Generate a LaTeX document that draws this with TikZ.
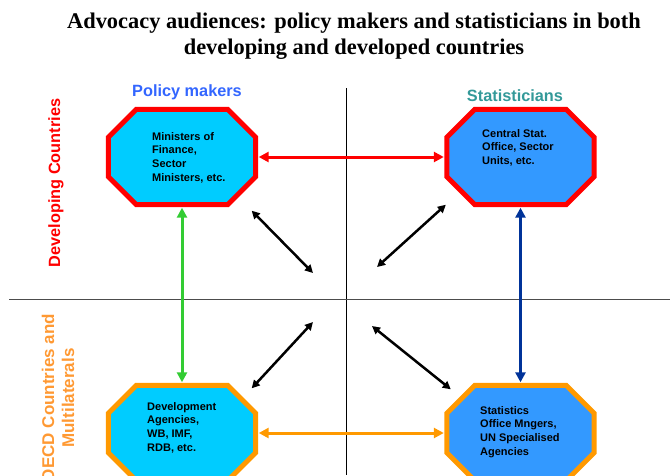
\documentclass[tikz,border=0pt]{standalone}
\usepackage{fontspec}
\setmainfont{Liberation Sans}
\newfontfamily\titlefont{Liberation Serif}
\usetikzlibrary{arrows.meta,calc}
\definecolor{octcyan}{HTML}{00CCFF}
\definecolor{octblue}{HTML}{3399FF}
\definecolor{octred}{HTML}{FF0000}
\definecolor{octorange}{HTML}{FF9900}
\definecolor{linkgreen}{HTML}{33CC33}
\definecolor{linkblue}{HTML}{003399}
\definecolor{headblue}{HTML}{3366FF}
\definecolor{headteal}{HTML}{339999}
\definecolor{sideorange}{HTML}{FF9933}
\begin{document}
\begin{tikzpicture}[x=1pt,y=-1pt,
  octbox/.style={minimum width=147pt,minimum height=95pt,inner sep=0pt},
  boxtext/.style={anchor=north west,align=left,inner sep=0pt,font=\fontsize{11}{13.7}\selectfont\bfseries},
  head/.style={font=\fontsize{16.3}{20}\selectfont\bfseries},
  link/.style={line width=3pt,{Triangle[length=10pt,width=10pt]}-{Triangle[length=10pt,width=10pt]},shorten <=3pt,shorten >=3pt},
  cross/.style={line width=2.5pt,{Triangle[length=8pt,width=8pt]}-{Triangle[length=8pt,width=8pt]}}]
\useasboundingbox (0,0) rectangle (670,475);
\clip (0,0) rectangle (670,475);
% title
\node[font=\fontsize{22.4}{26}\selectfont\titlefont\bfseries,align=center] (title) at (354,36) {Advocacy audiences: policy makers and statisticians in both\\developing and developed countries};
% quadrant lines
\draw[line width=0.8pt] (346,88) -- (346,475);
\draw[line width=0.8pt,black!70] (9,299) -- (670,299);
% column and row headings
\node[head,text=headblue] (pmhead) at (187,92) {Policy makers};
\node[head,text=headteal] (sthead) at (515,96) {Statisticians};
\node[head,rotate=90,text=octred] (devside) at (56,183) {Developing Countries};
\node[head,rotate=90,text=sideorange,align=center,font=\fontsize{17}{20}\selectfont\bfseries] (oecdside) at (58,398) {OECD Countries and\\Multilaterals};
% audience boxes
\node[octbox] (pm) at (182,157) {};
\node[octbox] (st) at (520.5,157) {};
\node[octbox] (da) at (182,433) {};
\node[octbox] (so) at (520.5,433) {};
\foreach \n/\c/\f in {pm/octred/octcyan, st/octred/octblue, da/octorange/octcyan, so/octorange/octblue}
  \draw[line width=5pt,draw=\c,fill=\f]
    ($(\n.north west)+(28pt,0pt)$) -- ($(\n.north east)+(-28pt,0pt)$)
    -- ($(\n.north east)+(0pt,-28pt)$) -- ($(\n.south east)+(0pt,28pt)$)
    -- ($(\n.south east)+(-28pt,0pt)$) -- ($(\n.south west)+(28pt,0pt)$)
    -- ($(\n.south west)+(0pt,28pt)$) -- ($(\n.north west)+(0pt,-28pt)$) -- cycle;
\node[boxtext] (pmtext) at (152,132) {Ministers of\\Finance,\\Sector\\Ministers, etc.};
\node[boxtext] (sttext) at (482,129) {Central Stat.\\Office, Sector\\Units, etc.};
\node[boxtext] (datext) at (147,402) {Development\\Agencies,\\WB, IMF,\\RDB, etc.};
\node[boxtext] (sotext) at (480,406) {Statistics\\Office Mngers,\\UN Specialised\\Agencies};
% links
\draw[link,octred] (pm.east) -- (st.west);
\draw[link,octorange] (da.east) -- (so.west);
\draw[link,linkgreen] (pm.south) -- (da.north);
\draw[link,linkblue] (st.south) -- (so.north);
% diagonal links towards the centre
\coordinate (pmend) at (313,273);
\coordinate (stend) at (377,267);
\coordinate (daend) at (313,322);
\coordinate (soend) at (372,326);
\draw[cross] ($(pm.south east)+(-4pt,-6pt)$) -- (pmend);
\draw[cross] ($(st.south west)+(-1pt,0pt)$) -- (stend);
\draw[cross] ($(da.north east)+(-4pt,-3pt)$) -- (daend);
\draw[cross] ($(so.north west)+(4pt,-4pt)$) -- (soend);
\end{tikzpicture}
\end{document}
